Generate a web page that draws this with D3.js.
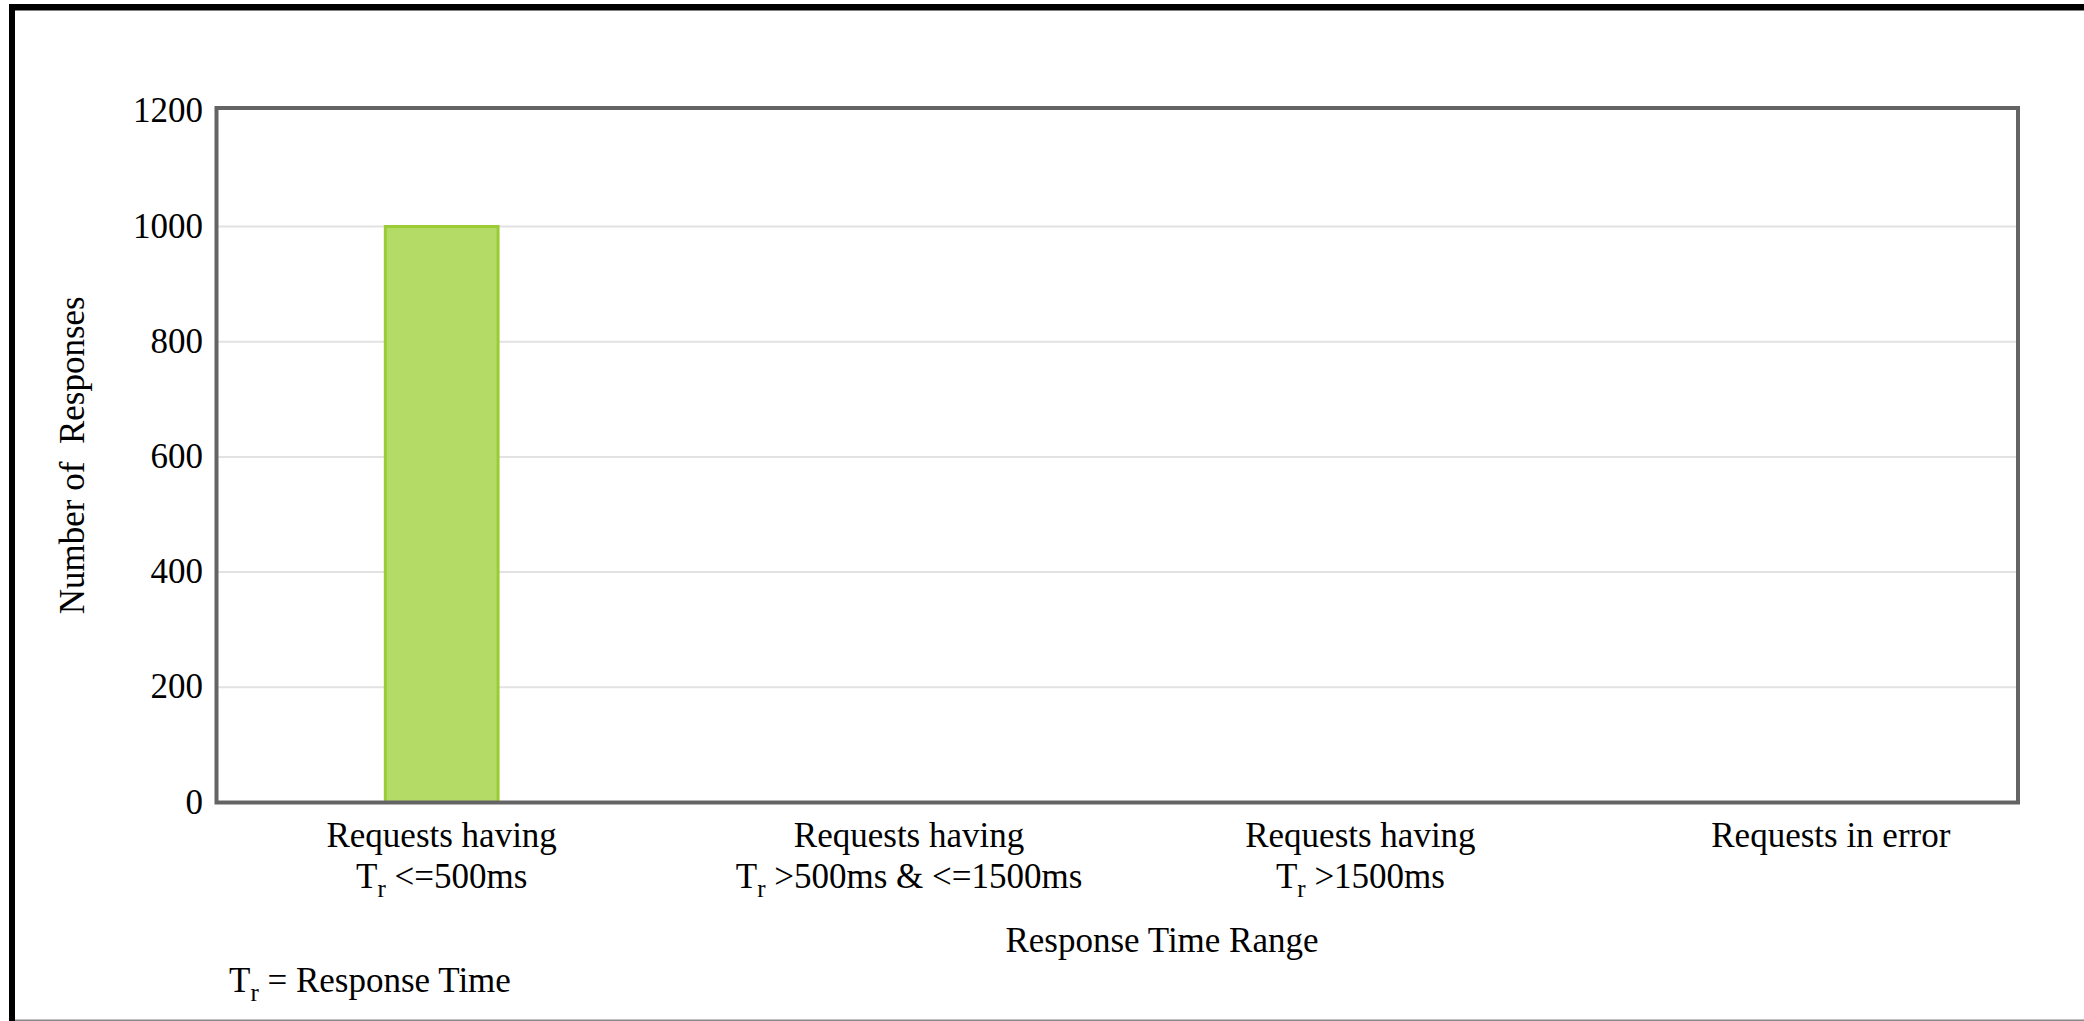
<!DOCTYPE html>
<html>
<head>
<meta charset="utf-8">
<script src="https://cdn.jsdelivr.net/npm/d3@7"></script>
<style>
  html, body { margin: 0; padding: 0; background: #fff; }
  svg { display: block; }
  text { font-family: "Liberation Serif", "Times New Roman", serif; fill: #000; }
</style>
</head>
<body>
<div id="chart"></div>
<script>
const categories = ['lt500', '500to1500', 'gt1500', 'error'];
const labelLines = [
  [['Requests having'], ['T', 'r', ' <=500ms']],
  [['Requests having'], ['T', 'r', ' >500ms & <=1500ms']],
  [['Requests having'], ['T', 'r', ' >1500ms']],
  [['Requests in error']]
];
const responses = [1000, 0, 0, 0];
const yTicks = [0, 200, 400, 600, 800, 1000, 1200];
const yTitle = 'Number of\u00a0 Responses';
const xTitle = 'Response Time Range';
const footnote = ['T', 'r', ' = Response Time'];

(function(){
  let W = 2084, H = 1021,
      plot = {left: 216.5, right: 2018, top: 108, bottom: 802.5},
      labelNudge = [0, 17, 18, 38];

  let svg = d3.select('#chart').append('svg')
    .attr('width', W)
    .attr('height', H);

  // outer page frame
  svg.append('rect').attr('x', 9).attr('y', 4).attr('width', W - 9).attr('height', 6.5).attr('fill', '#000');
  svg.append('rect').attr('x', 9).attr('y', 4).attr('width', 6).attr('height', H - 4).attr('fill', '#000');
  svg.append('rect').attr('x', 15).attr('y', H - 1.5).attr('width', W - 15).attr('height', 1.5).attr('fill', '#888');

  let x = d3.scaleBand()
    .domain(categories)
    .range([plot.left, plot.right])
    .paddingInner(0.743)
    .paddingOuter(0.3715);

  let y = d3.scaleLinear()
    .domain([0, 1200])
    .range([plot.bottom, 111.3]);

  svg.append('g')
    .attr('class', 'grid')
    .selectAll('line')
    .data(yTicks.filter(d => d > 0 && d < 1200))
    .enter().append('line')
      .attr('x1', plot.left)
      .attr('x2', plot.right)
      .attr('y1', d => y(d))
      .attr('y2', d => y(d))
      .attr('stroke', '#e2e2e2')
      .attr('stroke-width', 2);

  svg.append('g')
    .attr('class', 'bars')
    .selectAll('rect')
    .data(responses)
    .enter().append('rect')
      .attr('x', (d, i) => x(categories[i]) + 1.5)
      .attr('y', d => y(d))
      .attr('width', x.bandwidth() - 3)
      .attr('height', d => Math.max(0, y(0) - y(d)))
      .attr('fill', '#b3db66')
      .attr('stroke', '#9ccc35')
      .attr('stroke-width', 3)
      .attr('display', d => d > 0 ? null : 'none');

  svg.append('rect')
    .attr('x', plot.left)
    .attr('y', plot.top)
    .attr('width', plot.right - plot.left)
    .attr('height', plot.bottom - plot.top)
    .attr('fill', 'none')
    .attr('stroke', '#646464')
    .attr('stroke-width', 4);

  let yAxis = svg.append('g')
    .attr('class', 'axis axis--y')
    .attr('transform', 'translate(' + plot.left + ',0)')
    .call(d3.axisLeft(y).tickValues(yTicks).tickFormat(d3.format('d')).tickSize(0).tickPadding(13.5));
  yAxis.select('.domain').remove();
  yAxis.selectAll('text')
    .attr('font-size', 35)
    .attr('fill', '#000')
    .attr('font-family', '"Liberation Serif", "Times New Roman", serif')
    .attr('dy', '0.3em');

  // category labels, with the T-subscript-r notation
  function writeLine(sel, parts){
    sel.append('tspan').text(parts[0]);
    if(parts.length > 1){
      sel.append('tspan').attr('font-size', 25).attr('dy', 9).text(parts[1]);
      sel.append('tspan').attr('dy', -9).text(parts[2]);
    }
  }

  let xLabels = svg.append('g').attr('class', 'axis axis--x');
  categories.forEach((c, i) => {
    let cx = x(c) + x.bandwidth() / 2 + labelNudge[i];
    labelLines[i].forEach((parts, j) => {
      let t = xLabels.append('text')
        .attr('x', cx)
        .attr('y', 847 + j * 41)
        .attr('text-anchor', 'middle')
        .attr('font-size', 35)
        .attr('xml:space', 'preserve');
      writeLine(t, parts);
    });
  });

  svg.append('text')
    .attr('transform', 'translate(84,' + ((plot.top + plot.bottom) / 2) + ') rotate(-90)')
    .attr('text-anchor', 'middle')
    .attr('font-size', 35)
    .text(yTitle);

  svg.append('text')
    .attr('x', 1162)
    .attr('y', 952)
    .attr('text-anchor', 'middle')
    .attr('font-size', 35)
    .text(xTitle);

  let note = svg.append('text')
    .attr('x', 229)
    .attr('y', 992)
    .attr('font-size', 35)
    .attr('xml:space', 'preserve');
  writeLine(note, footnote);
})();
</script>
</body>
</html>
